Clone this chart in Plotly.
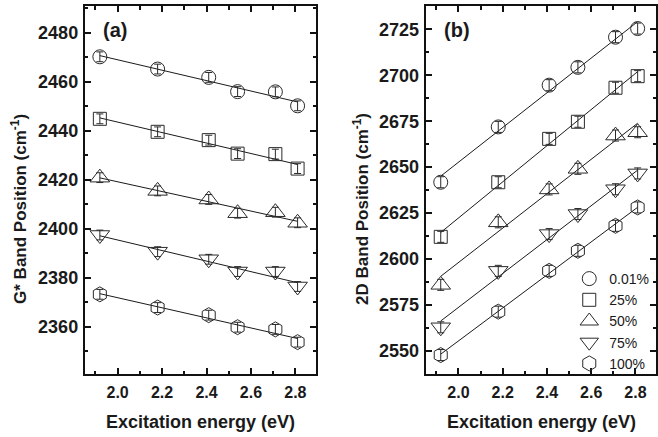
import numpy as np
import plotly.graph_objects as go

W, H = 658, 437

# ---------------- data ----------------
energy = [1.92, 2.18, 2.41, 2.54, 2.71, 2.81]
labels = ["0.01%", "25%", "50%", "75%", "100%"]
symbols = ["circle-open", "square-open", "triangle-up-open", "triangle-down-open", "hexagon-open"]
sizes = [14, 13, 17, 17, 15]

# (a) G* band position (cm-1)
g_001 = [2470.2, 2465.2, 2461.8, 2456.0, 2455.9, 2450.2]
g_25 = [2444.9, 2439.6, 2436.2, 2430.7, 2430.5, 2424.6]
g_50 = [2420.9, 2415.5, 2412.0, 2406.4, 2406.8, 2402.5]
g_75 = [2397.5, 2390.7, 2387.6, 2382.6, 2382.6, 2376.5]
g_100 = [2373.3, 2367.9, 2364.8, 2359.9, 2359.0, 2353.8]
g_err = [2.0, 2.0, 2.0, 2.0, 2.0, 2.0]

# (b) 2D band position (cm-1)
d_001 = [2641.8, 2671.9, 2694.6, 2704.3, 2720.7, 2725.4]
d_25 = [2612.1, 2641.8, 2665.4, 2674.7, 2693.2, 2699.5]
d_50 = [2586.0, 2620.0, 2637.9, 2649.1, 2667.2, 2669.0]
d_75 = [2562.9, 2593.6, 2613.6, 2624.5, 2638.0, 2646.6]
d_100 = [2547.8, 2571.4, 2593.6, 2604.5, 2618.1, 2628.1]
d_err = [3.0, 3.0, 3.0, 3.0, 3.0, 3.0]

g_series = [g_001, g_25, g_50, g_75, g_100]
d_series = [d_001, d_25, d_50, d_75, d_100]

x_ticks = [2.0, 2.2, 2.4, 2.6, 2.8]
g_ticks = [2360, 2380, 2400, 2420, 2440, 2460, 2480]
d_ticks = [2550, 2575, 2600, 2625, 2650, 2675, 2700, 2725]

# ---------------- figure ----------------
FONT = "Liberation Sans, Arial, sans-serif"
INK = "#1a1a1a"
MK = "#2a2a2a"
fig = go.Figure()

def add_panel(series, err, xa, ya, legend):
    for i, ys in enumerate(series):
        k, b = np.polyfit(energy, ys, 1)
        xs = [energy[0], energy[-1]]
        fig.add_trace(go.Scatter(
            x=xs, y=[k * v + b for v in xs], mode="lines",
            line=dict(color=INK, width=1), showlegend=False,
            xaxis=xa, yaxis=ya, hoverinfo="skip"))
        fig.add_trace(go.Scatter(
            x=energy, y=ys, mode="markers", name=labels[i],
            marker=dict(symbol=symbols[i], size=sizes[i], color=MK,
                        line=dict(width=1, color=MK)),
            error_y=dict(type="data", array=err, visible=True,
                         color=MK, thickness=1, width=3.5),
            showlegend=legend, xaxis=xa, yaxis=ya))

add_panel(g_series, g_err, "x", "y", False)
add_panel(d_series, d_err, "x2", "y2", True)

def px(x):
    return x / W

def py(y):
    return 1 - y / H

common_axis = dict(
    showline=True, linewidth=2, linecolor="#111", mirror="allticks",
    ticks="inside", ticklen=6, tickwidth=2, tickcolor="#111",
    showgrid=False, zeroline=False,
)
xtickfont = dict(family=FONT, size=16, color=INK, weight="bold")
ytickfont = dict(family=FONT, size=18, color=INK, weight="bold")

xcommon = dict(common_axis, range=[1.852, 2.893], tickvals=x_ticks,
               ticktext=[f"{v:.1f}" for v in x_ticks], tickfont=xtickfont,
               minor=dict(dtick=0.1, tick0=1.9, ticks="inside", ticklen=3.5,
                          tickwidth=2, tickcolor="#111"),
               ticklabelstandoff=3)

fig.update_layout(
    width=W, height=H,
    margin=dict(l=0, r=0, t=0, b=0),
    paper_bgcolor="white", plot_bgcolor="white",
    font=dict(family=FONT, color=INK),
    xaxis=dict(xcommon, domain=[px(85), px(317)], anchor="y"),
    xaxis2=dict(xcommon, domain=[px(427), px(658)], anchor="y2"),
    yaxis=dict(common_axis, domain=[py(374), py(6.3)], anchor="x",
               range=[2340.8, 2490.8], tickvals=g_ticks, tickfont=ytickfont,
               minor=dict(dtick=10, tick0=2350, ticks="inside", ticklen=3.5,
                          tickwidth=2, tickcolor="#111"),
               ticklabelstandoff=1),
    yaxis2=dict(common_axis, domain=[py(374), py(6.3)], anchor="x2",
                range=[2537.5, 2737.5], tickvals=d_ticks, tickfont=ytickfont,
                minor=dict(dtick=12.5, tick0=2537.5, ticks="inside", ticklen=3.5,
                           tickwidth=2, tickcolor="#111"),
                ticklabelstandoff=1),
    legend=dict(x=px(571), y=py(263), xanchor="left", yanchor="top",
                bgcolor="rgba(0,0,0,0)", borderwidth=0,
                font=dict(family=FONT, size=14, color=INK),
                tracegroupgap=0, itemsizing="trace"),
    showlegend=True,
)

title_font = dict(family=FONT, size=18, color=INK, weight="bold")
ytitle_font = dict(family=FONT, size=17, color=INK, weight="bold")
annotations = [
    dict(text="(a)", x=px(115), y=py(30), font=dict(family=FONT, size=20, color=INK, weight="bold")),
    dict(text="(b)", x=px(458), y=py(30), font=dict(family=FONT, size=20, color=INK, weight="bold")),
    dict(text="Excitation energy (eV)", x=px(201), y=py(422), font=title_font),
    dict(text="Excitation energy (eV)", x=px(543), y=py(422), font=title_font),
    dict(text="G* Band Position (cm<sup>-1</sup>)", x=px(19), y=py(209), textangle=-90, font=ytitle_font),
    dict(text="2D Band Position (cm<sup>-1</sup>)", x=px(362), y=py(209), textangle=-90, font=ytitle_font),
]
for a in annotations:
    a.update(xref="paper", yref="paper", showarrow=False, xanchor="center", yanchor="middle")
fig.update_layout(annotations=annotations)

fig.write_html(
    "out.html",
    config={"displayModeBar": False},
    post_script="document.body.style.margin='0';document.body.style.overflow='hidden';",
)
